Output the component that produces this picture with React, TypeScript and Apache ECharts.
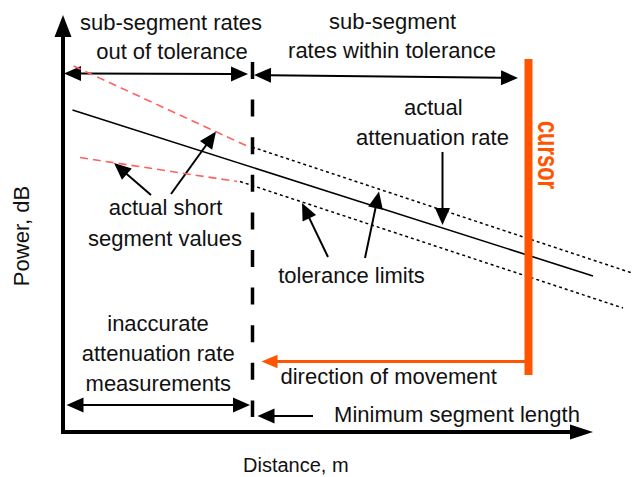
import React, { useEffect, useRef } from "react";
import * as echarts from "echarts";

// Diagram units: distance (x) and power (y), arbitrary scale
const attenuationLine = [[1.9, 64.4], [106, 31.2]];
const upperTolerance = [[37.8, 57], [113.8, 31.8]];
const lowerTolerance = [[35.4, 50.1], [112, 24.8]];
const shortSegmentUpper = [[2.1, 73.2], [37, 57.1]];
const shortSegmentLower = [[3.4, 54.9], [34.8, 50.1]];
const minSegmentMarker = [[37.9, 74], [37.9, 3]];
const cursorLine = [[93.1, 74.6], [93.1, 11.4]];
const distanceAxisLine = [[-0.4, 0, 106, 0, 0]];

// arrows: [fromX, fromY, toX, toY, doubleHeaded]
const blackArrows = [
  [0.2, 71.7, 37, 71.6, 1],
  [38.2, 71.4, 91, 70.8, 1],
  [75.9, 56, 75.9, 41.4, 0],
  [17.6, 47.4, 10.2, 53.8, 0],
  [21.6, 47.6, 30.6, 60.1, 0],
  [53, 35, 47.8, 45.8, 0],
  [60.4, 34.8, 63.2, 48.1, 0],
  [0.7, 5.4, 37.4, 5.4, 1],
  [50, 3.2, 38.9, 3.2, 0],
];
const movementArrow = [[93.1, 14.1, 39.7, 14.1, 0]];

const labels = [
  "sub-segment rates",
  "out of tolerance",
  "sub-segment",
  "rates within tolerance",
  "actual",
  "attenuation rate",
  "actual short",
  "segment values",
  "tolerance limits",
  "inaccurate",
  "attenuation rate",
  "measurements",
  "direction of movement",
  "Minimum segment length",
];
const labelPos = [
  [171, 22.5],
  [172, 51.5],
  [392.5, 21],
  [392, 50.5],
  [433.3, 107.5],
  [432.5, 137.5],
  [165.5, 207.5],
  [165, 238],
  [351.5, 275],
  [158, 323],
  [158.2, 353],
  [158.3, 383],
  [388.7, 376.5],
  [457, 414],
];

const FONT = '"Liberation Sans", Arial, Helvetica, sans-serif';
const ORANGE = "#FF5500";

function arrowSeries(data: number[][], color: string, lineWidth: number, headLen: number, headHalf: number) {
  return {
    type: "custom",
    coordinateSystem: "cartesian2d",
    data,
    encode: { x: [0, 2], y: [1, 3] },
    silent: true,
    clip: false,
    renderItem: (params: any, api: any) => {
      const a = api.coord([api.value(0), api.value(1)]);
      const b = api.coord([api.value(2), api.value(3)]);
      const both = api.value(4) === 1;
      const dx = b[0] - a[0];
      const dy = b[1] - a[1];
      const L = Math.hypot(dx, dy) || 1;
      const ux = dx / L;
      const uy = dy / L;
      const nx = -uy;
      const ny = ux;
      const head = (tip: number[], dirx: number, diry: number) => ({
        type: "polygon",
        shape: {
          points: [
            [tip[0], tip[1]],
            [tip[0] - dirx * headLen + nx * headHalf, tip[1] - diry * headLen + ny * headHalf],
            [tip[0] - dirx * headLen - nx * headHalf, tip[1] - diry * headLen - ny * headHalf],
          ],
        },
        style: { fill: color },
      });
      const s = both ? [a[0] + ux * (headLen - 1), a[1] + uy * (headLen - 1)] : a;
      const e = [b[0] - ux * (headLen - 1), b[1] - uy * (headLen - 1)];
      const children: any[] = [
        {
          type: "line",
          shape: { x1: s[0], y1: s[1], x2: e[0], y2: e[1] },
          style: { stroke: color, lineWidth },
        },
        head(b, ux, uy),
      ];
      if (both) children.push(head(a, -ux, -uy));
      return { type: "group", children };
    },
  };
}

function lineSeries(data: number[][], color: string, width: number, type: any, z = 2) {
  return {
    type: "line",
    data,
    showSymbol: false,
    symbol: "none",
    clip: false,
    silent: true,
    z,
    lineStyle: { color, width, type, cap: "butt" },
  };
}

export default function App() {
  const ref = useRef<HTMLDivElement>(null);
  useEffect(() => {
    const chart = echarts.init(ref.current!, null, { renderer: "svg" });
    const textEls = labels.map((t, i) => ({
      type: "text",
      x: labelPos[i][0],
      y: labelPos[i][1],
      silent: true,
      z: 10,
      style: {
        text: t,
        font: `22px ${FONT}`,
        fill: "#111",
        align: "center",
        verticalAlign: "middle",
      },
    }));
    const option: any = {
      animation: false,
      backgroundColor: "#fff",
      grid: { left: 63, right: 0, top: 26, bottom: 45, containLabel: false, outerBoundsMode: "none" },
      xAxis: {
        type: "value",
        min: 0,
        max: 113.8,
        name: "Distance, m",
        nameLocation: "middle",
        nameGap: 23.4,
        nameTextStyle: { fontSize: 20, fontFamily: FONT, color: "#111", padding: [0, 103.4, 0, 0] },
        axisLine: { show: false, onZero: false },
        axisTick: { show: false },
        axisLabel: { show: false },
        splitLine: { show: false },
      },
      yAxis: {
        type: "value",
        min: 0,
        max: 81.2,
        name: "Power, dB",
        nameLocation: "middle",
        nameGap: 31,
        nameTextStyle: { fontSize: 22, fontFamily: FONT, color: "#111", padding: [0, 14, 0, 0] },
        axisLine: {
          show: true,
          onZero: false,
          symbol: ["none", "triangle"],
          symbolSize: [17, 22],
          lineStyle: { color: "#000", width: 4, cap: "square" },
        },
        axisTick: { show: false },
        axisLabel: { show: false },
        splitLine: { show: false },
      },
      series: [
        lineSeries(shortSegmentUpper, "#FF6060", 1.6, [8, 5]),
        lineSeries(shortSegmentLower, "#FF6060", 1.6, [8, 5]),
        lineSeries(upperTolerance, "#000", 1.5, [3, 3]),
        lineSeries(lowerTolerance, "#000", 1.5, [3, 3]),
        lineSeries(attenuationLine, "#000", 1.6, "solid"),
        lineSeries(minSegmentMarker, "#000", 3.5, [17, 20.6]),
        arrowSeries(distanceAxisLine, "#000", 4, 23, 7.5),
        arrowSeries(blackArrows, "#000", 2, 17, 7.5),
        arrowSeries(movementArrow, ORANGE, 3, 16, 6.7),
        lineSeries(cursorLine, ORANGE, 8, "solid", 5),
      ],
      graphic: [
        ...textEls,
        {
          type: "text",
          x: 548.5,
          y: 155,
          rotation: -Math.PI / 2,
          scaleX: 0.73,
          silent: true,
          z: 10,
          style: {
            text: "cursor",
            font: `bold 30px ${FONT}`,
            fill: ORANGE,
            align: "center",
            verticalAlign: "middle",
          },
        },
      ],
    };
    chart.setOption(option);
    return () => chart.dispose();
  }, []);
  return (
    <div
      ref={ref}
      style={{ position: "fixed", left: 0, top: 0, width: 632, height: 477, background: "#fff" }}
    />
  );
}
